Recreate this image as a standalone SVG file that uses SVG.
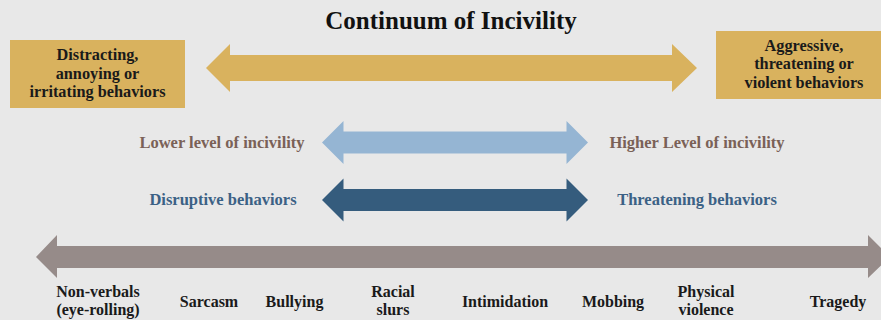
<svg xmlns="http://www.w3.org/2000/svg" width="881" height="320" viewBox="0 0 881 320">
  <style>
    text { font-family: "Liberation Serif", "DejaVu Serif", serif; font-weight: bold; text-anchor: middle; }
    .title { font-size: 25px; fill: #111111; }
    .box { fill: #d9b25e; }
    .boxtext { font-size: 16.3px; fill: #1a1a1a; }
    .gold { fill: #d9b25e; }
    .light { fill: #95b5d3; }
    .dark { fill: #355c7d; }
    .gray { fill: #968b89; }
    .lvl { font-size: 16.5px; fill: #7a6157; }
    .beh { font-size: 16.5px; fill: #3b6185; }
    .step { font-size: 16px; fill: #1a1a1a; }
  </style>

  <rect width="881" height="320" fill="#e8e8e8"/>

  <text class="title" x="451" y="29">Continuum of Incivility</text>

  <g id="node-mild">
    <rect class="box" x="10" y="40" width="175" height="68"/>
    <text class="boxtext" x="97.5" y="60">Distracting,</text>
    <text class="boxtext" x="97.5" y="78.5">annoying or</text>
    <text class="boxtext" x="97.5" y="97">irritating behaviors</text>
  </g>

  <g id="node-severe">
    <rect class="box" x="716" y="31" width="175" height="68"/>
    <text class="boxtext" x="804" y="50.5">Aggressive,</text>
    <text class="boxtext" x="804" y="69">threatening or</text>
    <text class="boxtext" x="804" y="87.5">violent behaviors</text>
  </g>

  <g id="label-lower">
    <text class="lvl" x="222" y="147.5">Lower level of incivility</text>
  </g>
  <g id="label-higher">
    <text class="lvl" x="697" y="147.5">Higher Level of incivility</text>
  </g>
  <g id="label-disruptive">
    <text class="beh" x="223" y="205">Disruptive behaviors</text>
  </g>
  <g id="label-threatening">
    <text class="beh" x="697" y="205">Threatening behaviors</text>
  </g>

  <g id="scale-steps">
    <g id="step-nonverbal">
      <text class="step" x="98" y="297">Non-verbals</text>
      <text class="step" x="98" y="315">(eye-rolling)</text>
    </g>
    <g id="step-sarcasm"><text class="step" x="209" y="306.5">Sarcasm</text></g>
    <g id="step-bullying"><text class="step" x="294.5" y="306.5">Bullying</text></g>
    <g id="step-slurs">
      <text class="step" x="393" y="297">Racial</text>
      <text class="step" x="393" y="315">slurs</text>
    </g>
    <g id="step-intimidation"><text class="step" x="505" y="306.5">Intimidation</text></g>
    <g id="step-mobbing"><text class="step" x="613" y="306.5">Mobbing</text></g>
    <g id="step-physical">
      <text class="step" x="706" y="297">Physical</text>
      <text class="step" x="706" y="315">violence</text>
    </g>
    <g id="step-tragedy"><text class="step" x="838" y="306.5">Tragedy</text></g>
  </g>

  <g id="connectors">
    <!-- double-headed block arrows -->
    <polygon class="gold" points="206,68 230,44 230,55 672,55 672,44 697,68 672,92 672,81 230,81 230,92"/>
    <polygon class="light" points="322,142.5 343.5,121 343.5,131.5 566.5,131.5 566.5,121 588,142.5 566.5,164 566.5,153.5 343.5,153.5 343.5,164"/>
    <polygon class="dark" points="322,200 343.5,178.5 343.5,189 566.5,189 566.5,178.5 588,200 566.5,221.5 566.5,211 343.5,211 343.5,221.5"/>
    <polygon class="gray" points="36,257 57,235 57,246 868,246 868,235 890,257 868,278 868,268 57,268 57,278"/>
  </g>
</svg>
